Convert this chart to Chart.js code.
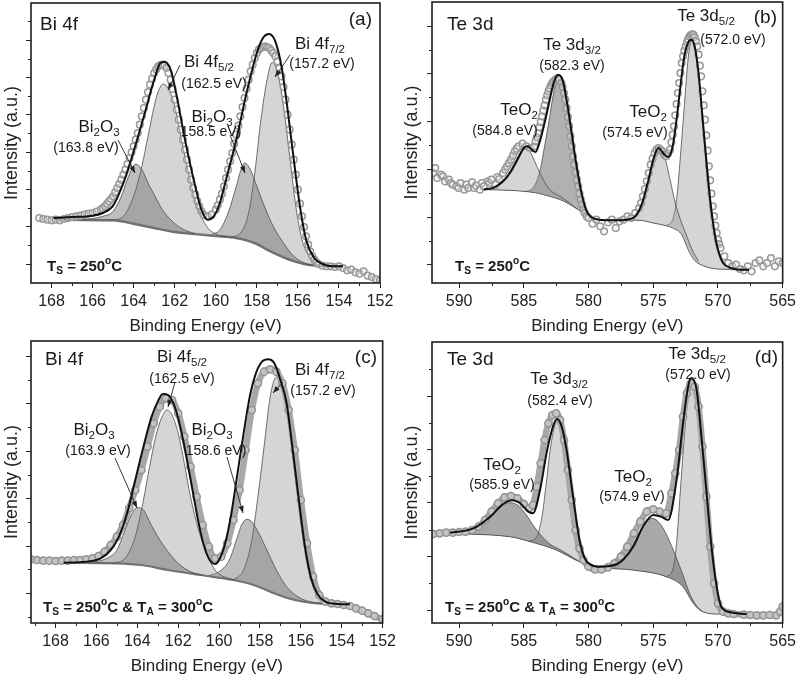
<!DOCTYPE html>
<html><head><meta charset="utf-8">
<script src="https://cdn.jsdelivr.net/npm/chart.js@4.4.1/dist/chart.umd.min.js"></script>
<style>
html,body{margin:0;padding:0;background:#fff;}
#wrap{position:relative;width:800px;height:680px;background:#fff;}
canvas{position:absolute;}
</style></head><body>
<div id="wrap">
<canvas id="pa" width="400" height="340" style="left:0;top:0"></canvas>
<canvas id="pb" width="400" height="340" style="left:400px;top:0"></canvas>
<canvas id="pc" width="400" height="340" style="left:0;top:340px"></canvas>
<canvas id="pd" width="400" height="340" style="left:400px;top:340px"></canvas>
</div>
<script>
// ---------- tick values ----------
const biTicks = [168,166,164,162,160,158,156,154,152];
const biMinor = [169,167,165,163,161,159,157,155,153];
const teTicks = [590,585,580,575,570,565];
const teMinor = [587.5,582.5,577.5,572.5,567.5];
const aYMajor = [57,169,281,393,505,617,728];
const aYMinor = [113,225,337,449,561,673,785];
const bYMajor = [55,198,342,485,628,770];
const bYMinor = [127,270,413,557,700];
const cYMajor = [89,231,374,516,659,799];
const cYMinor = [19,161,302,444,587,729];
const dYMajor = [37,199,361,521,681];
const dYMinor = [119,279,441,601,761];

// ---------- panel (a) Bi 4f, Ts = 250 C ----------
const aBgX = [167.9,165.0,164.0,163.0,162.0,161.0,160.0,159.0,158.5,158.0,157.5,157.0,156.5,156.0,155.5,155.0,154.0,153.8];
const aBgY = [190,188,178,165,153,147,141,135,128,117,100,85,72,62,55,52,50,50];
const aOx1X = [166.5,165.5,165.0,164.6,164.3,163.9,163.6,163.3,163.0,162.6,162.2,161.7,161.0];
const aOx1Y = [189,200,215,260,312,357,340,300,265,220,190,165,147];
const aMe1X = [165.0,164.5,164.0,163.6,163.3,163.0,162.8,162.55,162.3,162.0,161.7,161.4,161.0,160.5,160.0,159.5];
const aMe1Y = [188,200,260,350,440,530,575,597,582,530,440,350,250,175,147,138];
const aOx2X = [160.3,159.8,159.4,159.0,158.8,158.6,158.35,158.0,157.6,157.2,156.7,156.2,155.6,155.0];
const aOx2Y = [143,160,210,290,335,360,345,290,225,170,120,80,58,52];
const aMe2X = [159.3,158.8,158.4,158.1,157.8,157.5,157.25,157.0,156.7,156.4,156.1,155.8,155.4,155.0,154.5];
const aMe2Y = [137,150,210,330,490,610,662,635,530,380,230,130,75,55,51];
const aEnvX = [167.9,167.0,166.0,165.5,165.0,164.5,164.0,163.5,163.0,162.7,162.5,162.2,161.9,161.5,161.0,160.7,160.4,160.1,159.8,159.5,159.0,158.5,158.0,157.7,157.4,157.1,156.8,156.5,156.2,155.9,155.6,155.2,154.8,154.3,153.8];
const aEnvY = [195,198,202,210,232,300,395,500,610,660,664,640,560,430,290,220,190,200,240,310,430,570,690,735,747,725,650,520,370,230,130,75,57,50,50];
const aDat = [[168.6,195],[168.4,192],[168.2,190],[168.0,188],[167.8,190],[167.6,188],[167.4,192],[167.2,195],[167.0,198],[166.8,200],[166.6,202],[166.4,205],[166.2,208],[166.0,210],[165.8,214],
 [165.6,220],[165.5,225],[165.4,230],[165.3,237],[165.2,245],[165.1,252],[165.0,260],[164.9,272],[164.8,285],[164.7,297],[164.6,310],[164.5,325],[164.4,340],[164.3,357],[164.2,375],[164.1,392],[164.0,410],[163.9,430],[163.8,450],[163.7,475],[163.6,500],[163.5,525],[163.4,550],[163.3,573],[163.2,595],[163.1,613],[163.0,630],[162.9,641],[162.8,650],[162.7,654],[162.6,655],[162.5,652],[162.4,645],[162.3,630],[162.2,610],[162.1,582],[162.0,550],[161.9,520],[161.8,490],[161.7,460],[161.6,430],[161.5,400],[161.4,370],[161.3,340],[161.2,310],[161.1,285],[161.0,265],[160.9,246],[160.8,230],[160.7,215],[160.6,205],
 [160.4,200],[160.2,205],
 [160.0,220],[159.9,233],[159.8,250],[159.7,268],[159.6,290],[159.5,315],[159.4,340],[159.3,365],[159.2,390],[159.1,418],[159.0,445],[158.9,472],[158.8,500],[158.7,528],[158.6,555],[158.5,583],[158.4,610],[158.3,635],[158.2,655],[158.1,675],[158.0,690],[157.9,700],[157.8,705],[157.7,708],[157.6,710],[157.5,708],[157.4,705],[157.3,698],[157.2,690],[157.1,680],[157.0,665],[156.9,645],[156.8,620],[156.7,588],[156.6,550],[156.5,505],[156.4,460],[156.3,415],[156.2,370],[156.1,325],[156.0,280],[155.9,238],[155.8,200],[155.7,168],[155.6,140],[155.5,115],[155.4,95],[155.3,80],[155.2,70],[155.1,62],[155.0,57],
 [154.8,52],[154.6,50],[154.4,50],[154.2,48],[154.0,50],[153.8,45],[153.6,38],[153.4,40],[153.2,32],[153.0,28],[152.8,35],[152.6,22],[152.4,18],[152.2,12],[152.0,8]];

// ---------- panel (b) Te 3d, Ts = 250 C ----------
const bBgX = [588.1,586.0,584.0,583.0,582.0,581.0,580.0,579.4,578.0,576.0,575.0,574.0,573.5,572.8,572.3,571.8,571.0,570.0,567.5];
const bBgY = [280,278,270,260,247,225,200,190,189,188,180,172,165,145,100,68,50,42,40];
const bOx1X = [588.0,587.0,586.3,585.8,585.3,584.85,584.4,584.0,583.5,583.0,582.3,581.6,581.0];
const bOx1Y = [280,290,320,355,390,405,385,350,310,280,262,244,225];
const bTe1X = [585.0,584.3,583.8,583.4,583.0,582.7,582.3,582.0,581.7,581.3,581.0,580.6,580.2,579.6,579.0];
const bTe1Y = [274,285,330,410,500,570,612,595,540,430,350,270,220,195,190];
const bOx2X = [577.0,576.3,575.8,575.3,574.9,574.5,574.1,573.7,573.3,572.9,572.5,572.0,571.5];
const bOx2Y = [188,200,240,310,375,400,375,310,240,190,150,100,65];
const bTe2X = [574.0,573.5,573.2,572.9,572.6,572.3,572.0,571.7,571.4,571.1,570.8,570.5,570.1,569.6,569.0,568.0,567.5];
const bTe2Y = [172,190,250,380,530,675,730,690,580,440,300,200,120,65,45,40,40];
const bEnvX = [588.1,587.3,586.6,586.0,585.5,585.0,584.7,584.4,584.1,583.8,583.4,583.0,582.7,582.35,582.0,581.7,581.3,581.0,580.6,580.2,579.8,579.2,578.0,577.0,576.4,575.9,575.4,575.0,574.6,574.2,573.85,573.5,573.2,572.9,572.6,572.3,572.05,571.8,571.5,571.2,570.9,570.6,570.3,570.0,569.6,569.0,568.3,567.6];
const bEnvY = [280,287,305,335,370,405,410,400,393,420,480,550,600,625,608,550,450,370,280,220,198,190,188,190,200,235,305,370,405,388,378,410,490,590,680,722,730,710,630,500,370,250,160,100,60,45,40,40];
const bDat = [[592.0,330],[591.85,345],[591.7,315],[591.4,325],[591.25,320],[591.1,305],[590.8,310],[590.65,300],[590.5,295],[590.2,290],[590.05,285],[589.9,300],[589.6,280],[589.45,295],[589.3,285],[589.0,302],[588.85,285],[588.7,292],[588.4,280],[588.25,300],[588.1,290],[587.8,305],[587.65,300],[587.5,310],[587.2,295],[587.05,318],[586.9,312],[586.6,330],[586.45,340],[586.3,350],[586.15,360],[586.0,370],[585.85,382],[585.7,395],[585.55,403],[585.4,410],[585.1,418],[584.8,410],[584.5,405],[584.2,410],
 [584.1,425],[584.0,437],[583.9,450],[583.8,467],[583.7,483],[583.6,500],[583.5,517],[583.4,533],[583.3,550],[583.2,563],[583.1,575],[583.0,585],[582.9,593],[582.8,600],[582.7,605],[582.55,610],[582.4,615],[582.25,610],[582.1,600],[582.0,588],[581.9,570],[581.8,550],[581.7,525],[581.6,498],[581.5,470],[581.4,440],[581.3,410],[581.2,380],[581.1,355],[581.0,332],[580.9,310],[580.8,290],[580.7,268],[580.6,250],[580.5,235],[580.4,220],[580.3,210],[580.15,200],[580.0,195],
 [579.7,178],[579.4,190],[579.1,170],[578.8,155],[578.5,182],[578.2,190],[577.9,165],[577.6,185],[577.3,190],[577.0,200],[576.7,195],[576.4,210],[576.1,225],[575.95,240],[575.8,260],[575.65,282],[575.5,305],[575.35,330],[575.2,355],[575.05,373],[574.9,390],[574.75,400],[574.6,405],[574.45,400],[574.3,395],[574.15,385],[574.0,380],[573.85,388],
 [573.7,400],[573.6,422],[573.5,445],[573.4,470],[573.3,503],[573.2,537],[573.1,570],[573.0,600],[572.9,630],[572.8,660],[572.7,680],[572.6,697],[572.5,710],[572.4,722],[572.3,732],[572.2,740],[572.1,744],[572.0,746],[571.9,745],[571.8,738],[571.7,725],[571.6,710],[571.5,685],[571.4,652],[571.3,620],[571.2,575],[571.1,533],[571.0,490],[570.9,443],[570.8,397],[570.7,350],[570.6,308],[570.5,268],[570.4,230],[570.3,200],[570.2,172],[570.1,150],[570.0,130],[569.9,117],[569.8,105],
 [569.5,80],[569.2,60],[568.9,50],[568.6,55],[568.3,42],[568.0,38],[567.7,50],[567.4,35],[567.1,60],[566.8,68],[566.5,50],[566.2,60],[565.9,75],[565.6,50],[565.3,65],[565.0,60]];

// ---------- panel (c) Bi 4f, Ts = 250 C & Ta = 300 C ----------
const cBgX = [167.6,165.0,163.8,162.5,160.9,159.3,158.3,157.3,156.3,155.2,153.6];
const cBgY = [181,179,174,159,144,129,114,89,69,59,56];
const cOx1X = [166.3,165.5,165.0,164.6,164.3,164.0,163.7,163.4,163.0,162.5,162.0,161.4,160.7];
const cOx1Y = [180,194,219,279,324,346,339,304,259,214,179,154,142];
const cMe1X = [165.2,164.6,164.1,163.7,163.4,163.1,162.8,162.55,162.3,162.0,161.7,161.4,161.0,160.6,160.2,159.7,159.2];
const cMe1Y = [179,194,259,369,469,559,617,639,624,569,479,379,279,209,159,137,128];
const cOx2X = [160.6,160.0,159.5,159.1,158.9,158.65,158.4,158.1,157.7,157.2,156.7,156.1,155.5,154.9];
const cOx2Y = [141,154,189,259,294,311,304,274,224,159,109,77,63,59];
const cMe2X = [159.3,158.8,158.4,158.1,157.8,157.5,157.2,156.9,156.6,156.3,156.0,155.7,155.4,155.0,154.5,153.8];
const cMe2Y = [129,159,249,379,529,679,737,709,599,449,299,179,109,71,59,56];
const cEnvX = [167.6,166.5,165.8,165.3,164.9,164.5,164.1,163.7,163.3,163.0,162.75,162.5,162.2,161.9,161.6,161.3,161.0,160.7,160.4,160.2,160.0,159.7,159.4,159.1,158.8,158.5,158.2,157.9,157.6,157.3,157.0,156.7,156.4,156.1,155.8,155.5,155.2,154.8,154.2,153.6];
const cEnvY = [181,184,194,219,259,329,429,529,619,664,687,684,654,589,499,399,299,224,184,177,189,239,329,449,569,679,749,784,791,779,729,660,520,370,230,135,88,64,57,56];
const cDatX = [169.2,168.9,168.6,168.3,168.0,167.7,167.4,167.1,166.8,166.5,166.2,165.9,165.6,165.3,165.0,164.7,164.4,164.1,163.8,163.5,163.2,162.9,162.6,162.3,162.0,161.7,161.4,161.1,160.8,160.5,160.2,159.9,159.6,159.3,159.0,158.7,158.4,158.1,157.8,157.5,157.2,156.9,156.6,156.3,156.0,155.7,155.4,155.1,154.8,154.5,154.2,153.9,153.6,153.3,153.0,152.7,152.4,152.0];
const cDatY = [191,189,187,187,186,187,187,189,189,191,194,201,214,234,259,294,344,399,459,529,599,649,674,669,629,559,469,379,294,229,194,199,239,309,399,519,639,719,754,761,754,719,639,519,369,239,139,84,64,59,57,54,51,44,37,29,21,11];

// ---------- panel (d) Te 3d, Ts = 250 C & Ta = 300 C ----------
const dBgX = [592.0,586.1,584.5,582.5,580.7,579.1,576.6,574.0,572.7,571.9,571.2,569.9,567.8];
const dBgY = [269,259,244,219,184,167,159,139,109,59,34,27,27];
const dOx1X = [589.5,588.5,587.8,587.2,586.6,586.1,585.5,584.9,584.3,583.7,583.0,582.3,581.5,580.7];
const dOx1Y = [265,279,304,334,354,361,354,329,294,264,237,222,204,184];
const dTe1X = [584.6,584.0,583.6,583.3,583.0,582.7,582.45,582.2,581.9,581.6,581.3,581.0,580.6,580.1,579.5];
const dTe1Y = [245,259,319,409,509,579,604,584,509,409,309,239,194,182,171];
const dOx2X = [578.5,577.5,576.8,576.2,575.6,575.1,574.5,573.9,573.3,572.7,572.2,571.7,571.2];
const dOx2Y = [165,179,219,264,301,314,299,259,204,144,89,54,34];
const dTe2X = [574.0,573.5,573.2,572.9,572.6,572.3,572.05,571.8,571.5,571.2,570.9,570.6,570.3,569.9,569.4,568.5,567.8];
const dTe2Y = [139,159,239,399,559,679,721,699,609,469,319,189,99,44,29,27,27];
const dEnvX = [590.7,588.9,587.6,586.6,585.9,585.3,584.65,584.3,583.75,583.2,582.7,582.45,582.1,581.7,581.2,580.7,580.3,579.8,579.1,577.8,576.55,575.8,575.0,574.4,573.85,573.2,572.7,572.3,572.05,571.65,571.3,570.9,570.5,570.1,569.75,568.85,567.8];
const dEnvY = [271,284,319,357,368,360,334,329,399,519,595,612,592,519,379,249,194,174,169,177,229,289,324,319,309,429,599,710,735,700,569,399,229,109,49,31,27];
const dDatX = [592.0,591.5,591.0,590.5,590.0,589.5,589.0,588.5,588.0,587.5,587.0,586.5,586.0,585.5,585.0,584.6,584.3,584.0,583.7,583.4,583.1,582.8,582.5,582.2,581.9,581.6,581.3,581.0,580.7,580.4,580.0,579.5,579.0,578.5,578.0,577.5,577.0,576.5,576.0,575.5,575.0,574.5,574.0,573.6,573.3,573.0,572.7,572.4,572.1,571.8,571.5,571.2,570.9,570.6,570.3,570.0,569.6,569.2,568.8,568.0,567.5,567.0,566.5,566.0,565.5,565.2,565.0];
const dDatY = [267,269,271,271,273,274,279,289,309,334,359,377,381,374,357,344,354,409,479,549,599,624,629,609,549,459,369,279,224,189,169,161,161,167,179,199,229,269,304,334,341,334,329,389,449,519,619,689,719,709,649,529,379,229,119,59,34,29,27,25,24,23,23,24,23,34,49];

// ---------- drawing helpers ----------
const FAM = '"Liberation Sans", Arial, Helvetica, sans-serif';
Chart.defaults.font.family = FAM;
Chart.defaults.color = '#222';

function pts(xs, ys) { return xs.map((x, i) => ({x: x, y: ys[i]})); }
function pairPts(arr) { return arr.map(p => ({x: p[0], y: p[1]})); }

function parseRich(s) {
  const parts = []; const re = /([_^])\{([^}]*)\}/g; let last = 0, m;
  while ((m = re.exec(s))) {
    if (m.index > last) parts.push([s.slice(last, m.index), '']);
    parts.push([m[2], m[1] === '_' ? 'sub' : 'sup']);
    last = re.lastIndex;
  }
  if (last < s.length) parts.push([s.slice(last), '']);
  return parts;
}
function drawRich(ctx, t) {
  const parts = parseRich(t.t);
  const w = t.b ? 'bold ' : '';
  const sizes = parts.map(p => p[1] ? t.s * 0.68 : t.s);
  const widths = parts.map((p, i) => { ctx.font = w + sizes[i] + 'px ' + FAM; return ctx.measureText(p[0]).width; });
  const total = widths.reduce((a, b) => a + b, 0);
  let x = t.a === 'left' ? t.x : (t.a === 'right' ? t.x - total : t.x - total / 2);
  ctx.textAlign = 'left'; ctx.textBaseline = 'alphabetic'; ctx.fillStyle = '#1a1a1a';
  parts.forEach((p, i) => {
    ctx.font = w + sizes[i] + 'px ' + FAM;
    const dy = p[1] === 'sub' ? t.s * 0.24 : (p[1] === 'sup' ? -t.s * 0.42 : 0);
    ctx.fillText(p[0], x, t.y + dy);
    x += widths[i];
  });
}
function drawArrow(ctx, x1, y1, x2, y2) {
  ctx.beginPath(); ctx.moveTo(x1, y1); ctx.lineTo(x2, y2); ctx.stroke();
  const ang = Math.atan2(y2 - y1, x2 - x1), L = 7, W = 2.6;
  const bx = x2 - L * Math.cos(ang), by = y2 - L * Math.sin(ang);
  ctx.beginPath(); ctx.moveTo(x2, y2);
  ctx.lineTo(bx + W * Math.sin(ang), by - W * Math.cos(ang));
  ctx.lineTo(bx - W * Math.sin(ang), by + W * Math.cos(ang));
  ctx.closePath(); ctx.fill();
}

const decor = {
  id: 'decor',
  afterDraw(chart, args, o) {
    const ctx = chart.ctx, a = chart.chartArea;
    const xs = chart.scales.x, ys = chart.scales.y;
    ctx.save();
    ctx.strokeStyle = '#222'; ctx.lineWidth = 1;
    ctx.beginPath();
    o.minorX.forEach(v => {
      if (v <= xs.min || v >= xs.max) return;
      const px = Math.round(xs.getPixelForValue(v)) + 0.5;
      ctx.moveTo(px, a.bottom); ctx.lineTo(px, a.bottom + 3);
    });
    o.minorY.forEach(v => {
      const py = Math.round(ys.getPixelForValue(v)) + 0.5;
      ctx.moveTo(a.left, py); ctx.lineTo(a.left - 3, py);
    });
    ctx.stroke();
    ctx.lineWidth = 1.6; ctx.strokeStyle = '#1e1e1e';
    ctx.strokeRect(a.left, a.top, a.right - a.left, a.bottom - a.top);
    ctx.lineWidth = 0.9; ctx.strokeStyle = '#222'; ctx.fillStyle = '#222';
    (o.arrows || []).forEach(r => drawArrow(ctx, r[0], r[1], r[2], r[3]));
    (o.texts || []).forEach(t => drawRich(ctx, t));
    ctx.restore();
  }
};

function makePanel(id, p) {
  const ds = [];
  ds.push({data: pts(p.env[0], p.env[1]), borderColor: '#111', borderWidth: 2, pointRadius: 0, fill: false, cubicInterpolationMode: 'monotone'});
  if (p.band) {
    ds.push({data: p.dat, showLine: true, borderColor: '#a8a8a8', borderWidth: 6.5, cubicInterpolationMode: 'monotone',
             pointRadius: 3.6, pointBorderWidth: 1.5, pointBorderColor: '#929292', pointBackgroundColor: '#c4c4c4', fill: false});
  } else {
    ds.push({data: p.dat, showLine: false, pointRadius: 3.3, pointBorderWidth: 1.5,
             pointBorderColor: '#979797', pointBackgroundColor: 'rgba(235,235,235,0.35)', fill: false});
  }
  const bgIndex = 2 + p.comps.length;
  p.comps.forEach(c => ds.push({data: pts(c[0], c[1]), borderColor: '#4d4d4d', borderWidth: 0.8, pointRadius: 0,
           fill: bgIndex, backgroundColor: c[2], cubicInterpolationMode: 'monotone'}));
  ds.push({data: pts(p.bg[0], p.bg[1]), borderColor: p.bgColor, borderWidth: p.bgWidth, pointRadius: 0, fill: false, cubicInterpolationMode: 'monotone'});

  new Chart(document.getElementById(id), {
    type: 'line',
    data: {datasets: ds},
    options: {
      responsive: false, animation: false, devicePixelRatio: 1, events: [],
      layout: {autoPadding: false, padding: {left: 0, top: p.top, right: 400 - p.right, bottom: 0}},
      plugins: {legend: {display: false}, tooltip: {enabled: false},
                decor: {minorX: p.minorX, minorY: p.minorY, texts: p.texts, arrows: p.arrows}},
      scales: {
        x: {type: 'linear', min: p.xmin, max: p.xmax, reverse: true,
            afterBuildTicks: s => { s.ticks = p.xTicks.map(v => ({value: v})); },
            afterFit: s => { s.height = 340 - 283; },
            ticks: {font: {size: 16}, color: '#222', padding: 4, autoSkip: false, maxRotation: 0, callback: v => String(v)},
            grid: {drawOnChartArea: false, drawTicks: true, tickLength: 5, color: '#222', lineWidth: 1},
            border: {display: false},
            title: {display: true, text: 'Binding Energy (eV)', font: {size: 17}, color: '#222', padding: {top: 0, bottom: 3}}},
        y: {type: 'linear', min: 0, max: p.ymax,
            afterBuildTicks: s => { s.ticks = p.yMajor.map(v => ({value: v})); },
            afterFit: s => { s.width = p.left; },
            ticks: {display: false},
            grid: {drawOnChartArea: false, drawTicks: true, tickLength: 5, color: '#222', lineWidth: 1},
            border: {display: false},
            title: {display: true, text: 'Intensity (a.u.)', font: {size: 18}, color: '#222', padding: {top: 1, bottom: 0}}}
      }
    },
    plugins: [decor]
  });
}

const metal = 'rgba(150,150,150,0.40)';
const oxide = 'rgba(100,100,100,0.42)';

makePanel('pa', {
  left: 31, right: 380, top: 3, xmin: 152, xmax: 169.0, ymax: 840,
  xTicks: biTicks, minorX: biMinor, yMajor: aYMajor, minorY: aYMinor,
  env: [aEnvX, aEnvY], dat: pairPts(aDat), band: false,
  comps: [[aOx1X, aOx1Y, oxide], [aMe1X, aMe1Y, metal], [aOx2X, aOx2Y, oxide], [aMe2X, aMe2Y, metal]],
  bg: [aBgX, aBgY], bgColor: '#6e6e6e', bgWidth: 2.5,
  texts: [
    {t: 'Bi 4f', x: 40, y: 29.5, a: 'left', s: 19},
    {t: '(a)', x: 372, y: 25, a: 'right', s: 19},
    {t: 'Bi 4f_{5/2}', x: 209, y: 67, s: 17},
    {t: '(162.5 eV)', x: 214, y: 87.5, s: 14},
    {t: 'Bi 4f_{7/2}', x: 320, y: 49, s: 17},
    {t: '(157.2 eV)', x: 322, y: 68, s: 14},
    {t: 'Bi_{2}O_{3}', x: 99, y: 132, s: 17},
    {t: '(163.8 eV)', x: 86, y: 151.5, s: 14},
    {t: 'Bi_{2}O_{3}', x: 212, y: 122, s: 17},
    {t: '158.5 eV)', x: 211, y: 136, s: 14},
    {t: 'T_{S} = 250^{o}C', x: 47, y: 270.5, a: 'left', s: 15, b: true}
  ],
  arrows: [[180, 65, 168, 90], [290, 55, 275, 77], [118, 140, 135, 173], [230, 135, 245, 173]]
});

makePanel('pb', {
  left: 32, right: 384, top: 2, xmin: 565, xmax: 592.1, ymax: 843,
  xTicks: teTicks, minorX: teMinor, yMajor: bYMajor, minorY: bYMinor,
  env: [bEnvX, bEnvY], dat: pairPts(bDat), band: false,
  comps: [[bOx1X, bOx1Y, metal], [bTe1X, bTe1Y, 'rgba(100,100,100,0.5)'], [bOx2X, bOx2Y, metal], [bTe2X, bTe2Y, metal]],
  bg: [bBgX, bBgY], bgColor: '#4a4a4a', bgWidth: 1,
  texts: [
    {t: 'Te 3d', x: 47, y: 30, a: 'left', s: 19},
    {t: '(b)', x: 377, y: 23, a: 'right', s: 19},
    {t: 'Te 3d_{3/2}', x: 172, y: 50, s: 17},
    {t: '(582.3 eV)', x: 172, y: 70, s: 14},
    {t: 'TeO_{2}', x: 119, y: 115, s: 17},
    {t: '(584.8 eV)', x: 105, y: 135, s: 14},
    {t: 'TeO_{2}', x: 248, y: 117, s: 17},
    {t: '(574.5 eV)', x: 235, y: 136.5, s: 14},
    {t: 'Te 3d_{5/2}', x: 306, y: 20.5, s: 17},
    {t: '(572.0 eV)', x: 333, y: 44, s: 14},
    {t: 'T_{S} = 250^{o}C', x: 55, y: 270.5, a: 'left', s: 15, b: true}
  ],
  arrows: []
});

makePanel('pc', {
  left: 31, right: 383, top: 1, xmin: 152, xmax: 169.2, ymax: 846,
  xTicks: biTicks, minorX: biMinor, yMajor: cYMajor, minorY: cYMinor,
  env: [cEnvX, cEnvY], dat: pts(cDatX, cDatY), band: true,
  comps: [[cOx1X, cOx1Y, oxide], [cMe1X, cMe1Y, metal], [cOx2X, cOx2Y, oxide], [cMe2X, cMe2Y, metal]],
  bg: [cBgX, cBgY], bgColor: '#707070', bgWidth: 2.2,
  texts: [
    {t: 'Bi 4f', x: 45, y: 25, a: 'left', s: 19},
    {t: '(c)', x: 377, y: 23, a: 'right', s: 19},
    {t: 'Bi 4f_{5/2}', x: 182, y: 21.5, s: 17},
    {t: '(162.5 eV)', x: 182, y: 42.5, s: 14},
    {t: 'Bi 4f_{7/2}', x: 320, y: 34.5, s: 17},
    {t: '(157.2 eV)', x: 323, y: 54.5, s: 14},
    {t: 'Bi_{2}O_{3}', x: 94, y: 95, s: 17},
    {t: '(163.9 eV)', x: 98, y: 115, s: 14},
    {t: 'Bi_{2}O_{3}', x: 212, y: 95, s: 17},
    {t: '158.6 eV)', x: 216, y: 115, s: 14},
    {t: 'T_{S} = 250^{o}C & T_{A} = 300^{o}C', x: 43, y: 271.5, a: 'left', s: 15, b: true}
  ],
  arrows: [[175, 42, 168, 67], [283, 42, 273, 53], [115, 118, 137, 168], [227, 117, 243, 173]]
});

makePanel('pd', {
  left: 32, right: 384, top: 2, xmin: 565, xmax: 592.1, ymax: 843,
  xTicks: teTicks, minorX: teMinor, yMajor: dYMajor, minorY: dYMinor,
  env: [dEnvX, dEnvY], dat: pts(dDatX, dDatY), band: true,
  comps: [[dOx1X, dOx1Y, 'rgba(90,90,90,0.52)'], [dTe1X, dTe1Y, metal], [dOx2X, dOx2Y, 'rgba(90,90,90,0.52)'], [dTe2X, dTe2Y, metal]],
  bg: [dBgX, dBgY], bgColor: '#4a4a4a', bgWidth: 1,
  texts: [
    {t: 'Te 3d', x: 47, y: 25, a: 'left', s: 19},
    {t: '(d)', x: 378, y: 23, a: 'right', s: 19},
    {t: 'Te 3d_{3/2}', x: 159, y: 43.5, s: 17},
    {t: '(582.4 eV)', x: 160, y: 65, s: 14},
    {t: 'Te 3d_{5/2}', x: 297, y: 18.5, s: 17},
    {t: '(572.0 eV)', x: 298, y: 38.5, s: 14},
    {t: 'TeO_{2}', x: 102, y: 130, s: 17},
    {t: '(585.9 eV)', x: 102, y: 149, s: 14},
    {t: 'TeO_{2}', x: 233, y: 141.5, s: 17},
    {t: '(574.9 eV)', x: 232, y: 160.5, s: 14},
    {t: 'T_{S} = 250^{o}C & T_{A} = 300^{o}C', x: 45, y: 271.5, a: 'left', s: 15, b: true}
  ],
  arrows: []
});
</script>
</body></html>
